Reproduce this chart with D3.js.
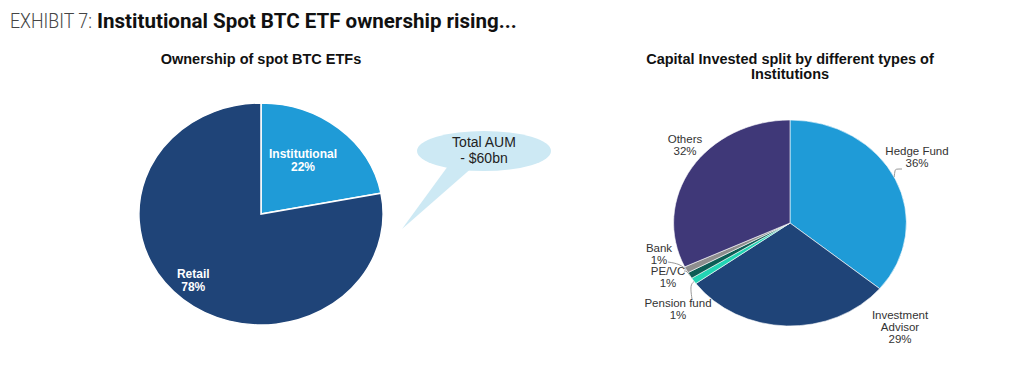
<!DOCTYPE html>
<html>
<head>
<meta charset="utf-8">
<script src="https://cdn.jsdelivr.net/npm/d3@7"></script>
<style>
  body { margin: 0; background: #fff; }
  text { font-family: "Liberation Sans", Arial, sans-serif; }
</style>
</head>
<body>
<script>
// ownership split (left pie)
const ownerNames = ["Institutional", "Retail"]
const ownerShare = [22, 78]
const ownerColors = ["#1f9bd7", "#1f4478"]

// institution types (right pie)
const instNames = ["Hedge Fund", "Investment Advisor", "Pension fund", "PE/VC", "Bank", "Others"]
const instShare = [36, 29, 1, 1, 1, 32]
const instColors = ["#1f9bd7", "#1f4478", "#22d4b4", "#0c5d55", "#8e8e8e", "#3f3878"]

const W = 1018, H = 367
const svg = d3.select("body").append("svg").attr("width", W).attr("height", H)

// headline: condensed look by squeezing each piece horizontally to the source width
function headline(x, width, txt, weight, color) {
  const g = svg.append("g")
  const t = g.append("text").attr("y", 28).style("font-size", "21px")
    .style("font-family", "Roboto").style("font-weight", weight).attr("fill", color).text(txt)
  const k = width / t.node().getComputedTextLength()
  g.attr("transform", `translate(${x},0) scale(${k},1)`)
}
headline(10, 82, "EXHIBIT 7:", 300, "#444")
headline(97, 420, "Institutional Spot BTC ETF ownership rising...", 700, "#111")

// chart titles
svg.append("text").attr("x", 261).attr("y", 64).attr("text-anchor", "middle")
  .style("font-size", "14.5px").style("font-weight", "bold").attr("fill", "#111").text("Ownership of spot BTC ETFs")
const t2 = svg.append("text").attr("text-anchor", "middle").style("font-size", "14.5px").style("font-weight", "bold").attr("fill", "#111")
t2.append("tspan").attr("x", 790).attr("y", 64).text("Capital Invested split by different types of")
t2.append("tspan").attr("x", 790).attr("y", 79).text("Institutions")

const pie = d3.pie().sort(null).value(d => d)

// left pie, slightly stretched horizontally like the source
const L = { cx: 261, cy: 214, r: 111, sx: 1.1 }
const arcL = d3.arc().innerRadius(0).outerRadius(L.r)
const gL = svg.append("g").attr("transform", `translate(${L.cx},${L.cy}) scale(${L.sx},1)`)
const lArcs = pie(ownerShare)
gL.selectAll("path").data(lArcs).enter().append("path")
  .attr("d", arcL).attr("fill", (d, i) => ownerColors[i])
  .attr("stroke", "#fff").attr("stroke-width", 1.5).attr("vector-effect", "non-scaling-stroke")

// label radius fractions along x / y of each slice's mid-angle
const labelKx = [0.54, 0.87], labelKy = [0.63, 0.77]
lArcs.forEach((d, i) => {
  const a = (d.startAngle + d.endAngle) / 2
  const x = L.cx + Math.sin(a) * L.r * labelKx[i] * L.sx
  const y = L.cy - Math.cos(a) * L.r * labelKy[i]
  const t = svg.append("text").attr("text-anchor", "middle").attr("fill", "#fff")
    .style("font-size", "12px").style("font-weight", "bold")
  t.append("tspan").attr("x", x).attr("y", y - 2).text(ownerNames[i])
  t.append("tspan").attr("x", x).attr("y", y + 11).text(ownerShare[i] + "%")
})

// callout bubble
const bub = svg.append("g")
bub.append("path").attr("d", "M448,166 L402,229 L474,166 Z").attr("fill", "#cde9f4")
bub.append("ellipse").attr("cx", 484).attr("cy", 151).attr("rx", 67).attr("ry", 20).attr("fill", "#cde9f4")
const bt = bub.append("text").attr("text-anchor", "middle").style("font-size", "14px").attr("fill", "#222")
bt.append("tspan").attr("x", 484).attr("y", 147).text("Total AUM")
bt.append("tspan").attr("x", 484).attr("y", 163).text("- $60bn")

// right pie
const R = { cx: 790, cy: 223, r: 103, sx: 1.13 }
const arcR = d3.arc().innerRadius(0).outerRadius(R.r)
const gR = svg.append("g").attr("transform", `translate(${R.cx},${R.cy}) scale(${R.sx},1)`)
const rArcs = pie(instShare)
gR.selectAll("path").data(rArcs).enter().append("path")
  .attr("d", arcR).attr("fill", (d, i) => instColors[i])
  .attr("stroke", "#fff").attr("stroke-width", 0.6).attr("vector-effect", "non-scaling-stroke")

// outside labels: [anchor x, first baseline]
const instLabelPos = [[917, 155], [900, 319], [678, 307], [668, 275], [659, 252], [685, 143]]
rArcs.forEach((d, i) => {
  const [x, y] = instLabelPos[i]
  const words = instNames[i] === "Investment Advisor" ? ["Investment", "Advisor"] : [instNames[i]]
  const t = svg.append("text").attr("text-anchor", "middle").attr("fill", "#333").style("font-size", "11.5px")
  words.concat([instShare[i] + "%"]).forEach((w, k) => {
    t.append("tspan").attr("x", x).attr("y", y + k * 12).text(w)
  })
})

// leader lines
const edge = (i, f) => {
  const d = rArcs[i]
  const a = d.startAngle + (d.endAngle - d.startAngle) * f
  return [R.cx + Math.sin(a) * R.r * R.sx, R.cy - Math.cos(a) * R.r]
}
const line = d3.line().curve(d3.curveBasis)
const leaders = [
  [edge(0, 0.49), [895, 170], [896, 169], [902, 169]],
  [[668, 262], [680, 264], edge(4, 0.5)],
  [[684, 271], [687, 271], edge(3, 0.5)],
  [edge(2, 0.4), [690, 285], [692, 299]]
]
svg.selectAll(".leader").data(leaders).enter().append("path").attr("class", "leader")
  .attr("d", line).attr("fill", "none").attr("stroke", "#999").attr("stroke-width", 1)
</script>
</body>
</html>
